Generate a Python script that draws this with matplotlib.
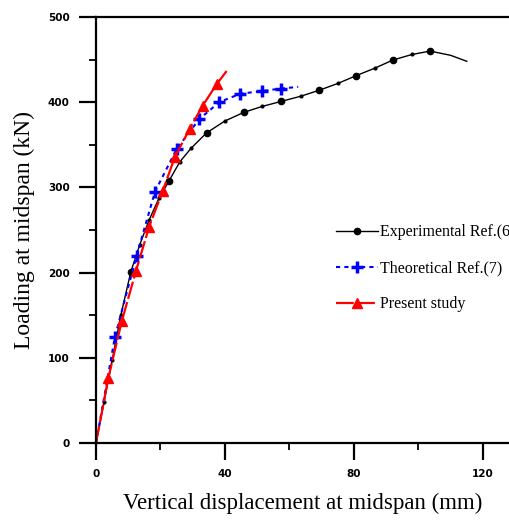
import matplotlib
matplotlib.use("Agg")
import matplotlib.pyplot as plt
from matplotlib.ticker import MultipleLocator

# experimental curve, Ref.(6)
exp_x = [0, 2.5, 5, 7.7, 10.8, 13.5, 16.5, 19.5, 22.7, 26, 29.5, 34.3, 40, 45.8,
         51.5, 57.5, 63.5, 69.2, 75, 80.6, 86.5, 92.1, 98, 103.6, 110, 115]
exp_y = [0, 48, 97, 150, 201, 232, 262, 287, 308, 330, 346, 364, 378, 388,
         395, 401, 407, 414, 422, 431, 440, 449.5, 456, 460, 455, 448]
exp_big = [4, 8, 11, 13, 15, 17, 19, 21, 23]
exp_small = [1, 2, 3, 5, 6, 7, 9, 10, 12, 14, 16, 18, 20, 22]

# theoretical, Ref.(7)
th_x = [0, 5.9, 12.6, 18.3, 25, 32, 38.2, 44.8, 51.4, 57.3, 62.7]
th_y = [0, 125, 220, 295, 345, 380, 400, 410, 413, 416, 418]

# present study
ps_x = [0, 3.8, 8.0, 12.4, 16.5, 20.7, 24.5, 29.1, 33.1, 37.4, 41]
ps_y = [0, 76, 143, 202, 254, 296, 336, 369, 396, 421, 439]

serif = "Liberation Serif"

fig = plt.figure(figsize=(5.10, 5.23), dpi=100)
ax = fig.add_axes([96/510, 1-443/523, 414/510, 426/523])

l1, = ax.plot(exp_x, exp_y, color="black", lw=1, marker="o", ms=4.5,
              markevery=exp_big, label="Experimental Ref.(6")
ax.plot(exp_x, exp_y, ls="none", color="black", marker="o", ms=2,
        markevery=exp_small)
l2, = ax.plot(th_x, th_y, color="blue", lw=1.5, ls=(0, (2, 2)), marker="+",
              ms=8, mew=2.5, markevery=list(range(1, 10)),
              label="Theoretical Ref.(7)")
l3, = ax.plot(ps_x, ps_y, color="red", lw=1.6, ls=(0, (8, 1.5)), marker="^",
              ms=7, markevery=list(range(1, 10)), label="Present study")

ax.set_xlim(0, 128.4)
ax.set_ylim(0, 500)
ax.xaxis.set_major_locator(MultipleLocator(40))
ax.xaxis.set_minor_locator(MultipleLocator(20))
ax.yaxis.set_major_locator(MultipleLocator(100))
ax.yaxis.set_minor_locator(MultipleLocator(50))

ax.spines["right"].set_visible(False)
for s in ["left", "bottom", "top"]:
    ax.spines[s].set_linewidth(1.6)
ax.tick_params(which="major", direction="out", length=12, width=1.6, pad=7,
               labelsize=7.5)
ax.tick_params(which="minor", direction="out", length=5, width=1.3)
for lab in ax.get_xticklabels() + ax.get_yticklabels():
    lab.set_fontweight("bold")

ax.set_xlabel("Vertical displacement at midspan (mm)", fontfamily=serif,
              fontsize=16.5, labelpad=10)
ax.set_ylabel("Loading at midspan (kN)", fontfamily=serif, fontsize=17,
              labelpad=9)

fig.legend(handles=[l1, l2, l3], loc="upper left",
           bbox_to_anchor=(330/510, 1-218/523), frameon=False,
           prop={"family": serif, "size": 11.5}, handlelength=2.6,
           handletextpad=0.1, labelspacing=1.25, borderaxespad=0)

fig.savefig("out.png", dpi=100)
